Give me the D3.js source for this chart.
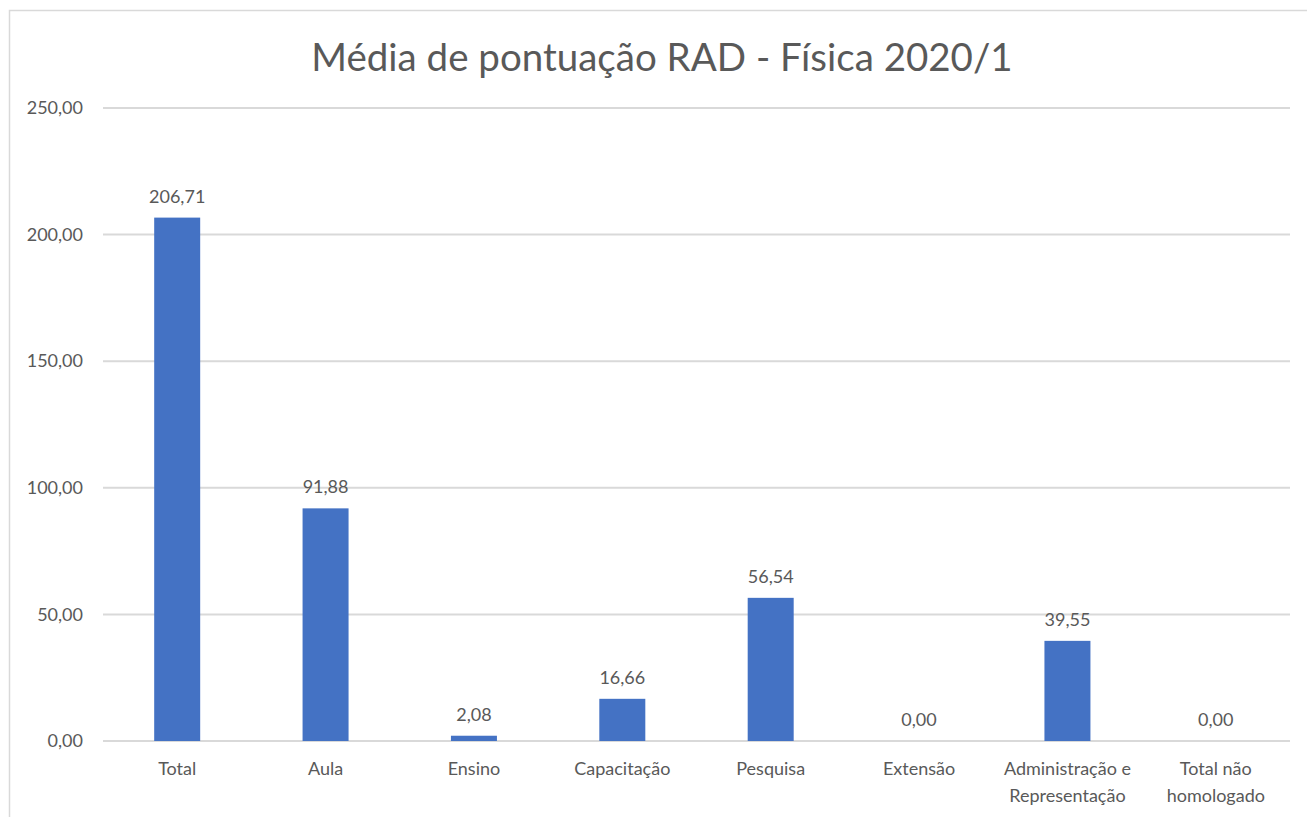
<!DOCTYPE html>
<html lang="pt">
    <head>
        <meta charset="UTF-8" />
        <title>Média de pontuação RAD - Física 2020/1</title>
        <script src="https://d3js.org/d3.v7.min.js"></script>
        <style>
            body {
                margin: 0;
                background: #fff;
            }
            svg text {
                font-family: Lato, 'Open Sans', sans-serif;
                fill: #595959;
            }
            .grid line {
                stroke: #d9d9d9;
                stroke-width: 2px;
            }
        </style>
    </head>
    <body>
        <svg width="1307" height="817"></svg>

        <script>
            const categories = [
                ['Total'],
                ['Aula'],
                ['Ensino'],
                ['Capacitação'],
                ['Pesquisa'],
                ['Extensão'],
                ['Administração e', 'Representação'],
                ['Total não', 'homologado'],
            ];
            const values = [206.71, 91.88, 2.08, 16.66, 56.54, 0.0, 39.55, 0.0];
            const yTicks = [0, 50, 100, 150, 200, 250];
            const title = 'Média de pontuação RAD - Física 2020/1';

            const svg = d3.select('svg');
            const margin = { top: 108, right: 17, bottom: 76, left: 103 };
            const width = 1307 - margin.left - margin.right;
            const height = 817 - margin.top - margin.bottom;

            const fmt = (v) => v.toFixed(2).replace('.', ',');

            // chart frame
            svg.append('rect')
                .attr('x', 9.5)
                .attr('y', 10.5)
                .attr('width', 1320)
                .attr('height', 840)
                .attr('fill', 'none')
                .attr('stroke', '#d9d9d9')
                .attr('stroke-width', 1.5);

            svg.append('text')
                .attr('x', 662)
                .attr('y', 71)
                .attr('text-anchor', 'middle')
                .style('font-size', '38.5px')
                .text(title);

            const g = svg.append('g').attr('transform', `translate(${margin.left},${margin.top})`);

            const x = d3
                .scaleBand()
                .domain(d3.range(categories.length))
                .range([0, width])
                .paddingInner(0.69)
                .paddingOuter(0.345);
            const y = d3.scaleLinear().domain([0, 250]).range([height, 0]);

            g.append('g')
                .attr('class', 'grid')
                .selectAll('line')
                .data(yTicks)
                .join('line')
                .attr('x1', 0)
                .attr('x2', width)
                .attr('y1', (d) => y(d))
                .attr('y2', (d) => y(d));

            const yAxis = g.append('g').call(
                d3.axisLeft(y).tickValues(yTicks).tickFormat(fmt).tickSize(0).tickPadding(20)
            );
            yAxis.select('.domain').remove();
            yAxis.selectAll('text').style('font-size', '18px').attr('fill', null);

            g.selectAll('.bar')
                .data(values)
                .join('rect')
                .attr('class', 'bar')
                .attr('x', (d, i) => x(i))
                .attr('y', (d) => y(d))
                .attr('width', x.bandwidth())
                .attr('height', (d) => y(0) - y(d))
                .attr('fill', '#4472c4');

            g.selectAll('.label')
                .data(values)
                .join('text')
                .attr('class', 'label')
                .attr('x', (d, i) => x(i) + x.bandwidth() / 2)
                .attr('y', (d) => y(d) - 15)
                .attr('text-anchor', 'middle')
                .style('font-size', '18px')
                .text(fmt);

            const xl = g.selectAll('.xlabel')
                .data(categories)
                .join('text')
                .attr('class', 'xlabel')
                .attr('x', (d, i) => x(i) + x.bandwidth() / 2)
                .attr('y', height + 34)
                .attr('text-anchor', 'middle')
                .style('font-size', '18px');
            xl.selectAll('tspan')
                .data((d) => d)
                .join('tspan')
                .attr('x', function () {
                    return this.parentNode.getAttribute('x');
                })
                .attr('dy', (d, i) => (i === 0 ? 0 : 27))
                .text((d) => d);
        </script>
    </body>
</html>
